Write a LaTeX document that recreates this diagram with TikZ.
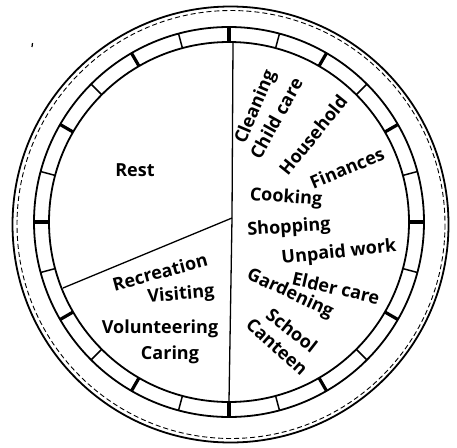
\documentclass[tikz,border=0pt]{standalone}
\usepackage{fontspec}
\setmainfont{Open Sans}
\usetikzlibrary{calc}
\begin{document}
\begin{tikzpicture}[x=1pt,y=-1pt,
  lbl/.style={font=\fontsize{18}{20}\selectfont\bfseries, inner sep=0pt, anchor=center},
  ring/.style={line width=1.8pt},
  thinline/.style={line width=1.3pt},
  tickthick/.style={line width=3.2pt},
  tickthin/.style={line width=1.5pt}]
\useasboundingbox (0,0) rectangle (457,447);
% centres
\coordinate (o) at (229,222);
\coordinate (oo) at (230.5,224.5);
% outer rims
\draw[line width=1.8pt] (oo) circle[radius=218];
\draw[line width=0.9pt, dash pattern=on 5pt off 3pt] (231,224.5) circle[radius=214];
% clock ring
\draw[ring] (o) circle[radius=195];
\draw[ring] (o) circle[radius=180];
% hour ticks
\foreach \a in {0,30,...,330}{
  \draw[tickthick] ($(o)+(\a:180)$) -- ($(o)+(\a:195)$);
}
\foreach \a in {15,45,...,345}{
  \draw[tickthin] ($(o)+(\a:180)$) -- ($(o)+(\a:195)$);
}
% pie dividers
\coordinate (c) at (232,218);
\coordinate (top) at (233,42);
\coordinate (bot) at (229,401);
\coordinate (lw) at (63,288);
\draw[thinline] (top) -- (c) -- (bot);
\draw[thinline] (c) -- (lw);
% stray mark
\coordinate (s1) at (32.5,43);
\coordinate (s2) at (32,47);
\draw[line width=1.2pt] (s1) -- (s2);
% labels
\node[lbl] (rest) at (135,170) {Rest};
\node[lbl, rotate=67] (clean) at (256,107) {Cleaning};
\node[lbl, rotate=61] (child) at (276,118) {Child care};
\node[lbl, rotate=51] (house) at (313,135) {Household};
\node[lbl, rotate=23] (fin) at (347,168) {Finances};
\node[lbl, rotate=-4] (cook) at (286,198) {Cooking};
\node[lbl, rotate=4] (shop) at (289,228) {Shopping};
\node[lbl, rotate=6] (unpaid) at (339,253) {Unpaid work};
\node[lbl, rotate=-13] (elder) at (336,288) {Elder care};
\node[lbl, rotate=-25] (garden) at (290,294) {Gardening};
\node[lbl, rotate=-38] (school) at (292,330) {School};
\node[lbl, rotate=-42] (canteen) at (277,347) {Canteen};
\node[lbl, rotate=15] (recr) at (160,272) {Recreation};
\node[lbl, rotate=5] (visit) at (181,295) {Visiting};
\node[lbl] (vol) at (160,329) {Volunteering};
\node[lbl] (caring) at (170,355) {Caring};
\end{tikzpicture}
\end{document}
